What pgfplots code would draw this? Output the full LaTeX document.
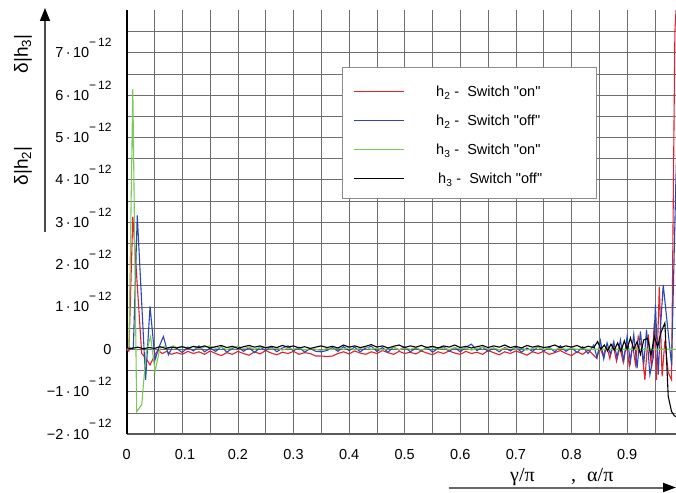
\documentclass[border=0pt]{standalone}
\usepackage{pgfplots}
\pgfplotsset{compat=1.18}
\usepackage{pgfplotstable}
\usepackage{fontspec}
\setmainfont{Liberation Sans}
\newfontfamily\lsans{Liberation Sans}
\newfontfamily\grfont{Liberation Serif}
\usetikzlibrary{arrows.meta}
\definecolor{cred}{RGB}{232,32,40}
\definecolor{cblue}{RGB}{40,72,180}
\definecolor{cgreen}{RGB}{125,200,90}
\definecolor{cgrid}{RGB}{110,110,110}
\newcommand{\sci}[1]{#1\,·\,10\raisebox{11pt}{\fontsize{12}{12}\selectfont −\,12}}
\newcommand{\tf}{\fontsize{14.5}{17}\selectfont}

\pgfplotstableread{
x y
0 0.0
0.004 -0.05
0.011 3.13
0.027 -0.10
0.035 -0.22
0.042 -0.37
0.05 -0.15
0.056 -0.02
0.064 -0.10
0.072 -0.05
0.08 -0.12
0.09 -0.08
0.10 -0.12
0.11 -0.05
0.12 -0.10
0.13 -0.06
0.14 -0.12
0.15 -0.04
0.16 -0.10
0.17 -0.15
0.18 -0.08
0.19 -0.12
0.20 -0.05
0.21 -0.10
0.22 -0.14
0.23 -0.06
0.24 -0.11
0.25 -0.03
0.26 -0.09
0.27 -0.13
0.28 -0.07
0.29 -0.10
0.30 -0.05
0.31 -0.12
0.32 -0.08
0.33 -0.10
0.34 -0.16
0.35 -0.16
0.36 -0.17
0.37 -0.16
0.38 -0.10
0.39 -0.06
0.40 -0.11
0.41 -0.04
0.42 -0.09
0.43 -0.12
0.44 -0.06
0.45 -0.10
0.46 -0.03
0.47 -0.08
0.48 -0.12
0.49 -0.05
0.50 -0.10
0.51 -0.07
0.52 -0.11
0.53 -0.04
0.54 -0.09
0.55 -0.13
0.56 -0.06
0.57 -0.10
0.58 -0.04
0.59 -0.09
0.60 -0.12
0.61 -0.05
0.62 -0.10
0.63 -0.07
0.64 -0.12
0.65 -0.03
0.66 -0.08
0.67 -0.13
0.68 -0.06
0.69 -0.10
0.70 -0.04
0.71 -0.09
0.72 -0.14
0.73 -0.06
0.74 -0.10
0.75 -0.05
0.76 -0.12
0.77 -0.08
0.78 -0.03
0.79 -0.10
0.80 -0.15
0.81 -0.06
0.82 -0.12
0.83 -0.02
0.84 -0.14
0.845 -0.21
0.851 0.03
0.857 -0.15
0.863 0.08
0.869 -0.22
0.875 0.10
0.881 -0.28
0.887 0.05
0.893 -0.30
0.899 0.15
0.904 -0.40
0.910 0.10
0.915 -0.35
0.920 0.30
0.926 0.05
0.932 -0.72
0.938 0.35
0.944 -0.45
0.949 0.62
0.953 -0.72
0.958 1.48
0.963 -0.64
0.968 0.20
0.974 -0.55
0.980 -0.72
0.986 7.50
0.992 9.00
}\redtab

\pgfplotstableread{
x y
0 0.02
0.005 0.0
0.012 0.04
0.019 3.16
0.034 -0.72
0.042 1.01
0.051 -0.25
0.058 0.05
0.066 0.30
0.075 -0.13
0.083 0.07
0.09 0.02
0.10 -0.08
0.11 0.05
0.12 -0.04
0.13 0.08
0.14 -0.06
0.15 0.03
0.16 -0.05
0.17 0.06
0.18 -0.07
0.19 0.02
0.20 0.07
0.21 -0.05
0.22 0.04
0.23 -0.08
0.24 0.05
0.25 -0.03
0.26 0.06
0.27 -0.06
0.28 0.03
0.29 0.08
0.30 -0.04
0.31 0.05
0.32 -0.07
0.33 0.02
0.34 -0.05
0.35 -0.06
0.36 -0.03
0.37 0.04
0.38 -0.05
0.39 0.06
0.40 -0.03
0.41 0.05
0.42 -0.06
0.43 0.03
0.44 0.07
0.45 -0.05
0.46 0.04
0.47 -0.07
0.48 0.05
0.49 -0.02
0.50 0.06
0.51 -0.06
0.52 0.03
0.53 -0.04
0.54 0.05
0.55 -0.07
0.56 0.02
0.57 0.06
0.58 -0.05
0.59 0.04
0.60 -0.06
0.61 0.05
0.62 0.12
0.63 -0.03
0.64 0.05
0.65 -0.05
0.66 0.03
0.67 -0.06
0.68 0.04
0.69 -0.04
0.70 0.05
0.71 -0.07
0.72 0.03
0.73 -0.05
0.74 0.06
0.75 -0.04
0.76 0.05
0.77 -0.06
0.78 0.08
0.79 -0.05
0.80 0.04
0.81 -0.08
0.82 0.06
0.83 -0.10
0.84 0.10
0.846 -0.20
0.852 0.20
0.858 -0.23
0.864 0.15
0.870 -0.12
0.876 0.18
0.882 -0.20
0.888 0.22
0.894 -0.28
0.900 0.30
0.906 -0.30
0.912 0.35
0.918 -0.45
0.924 0.42
0.930 -0.35
0.935 0.46
0.941 -0.60
0.947 -0.20
0.951 1.05
0.956 -0.60
0.960 0.50
0.965 1.52
0.980 -0.37
0.988 4.10
0.992 6.00
}\bluetab

\pgfplotstableread{
x y
0 0.0
0.004 0.03
0.011 6.14
0.018 -1.47
0.027 -1.31
0.035 -0.08
0.043 0.30
0.051 -0.52
0.06 0.03
0.068 0.07
0.076 0.02
0.084 0.08
0.09 0.04
0.10 0.07
0.11 0.02
0.12 0.06
0.13 0.01
0.14 0.05
0.15 0.08
0.16 0.02
0.17 0.05
0.18 -0.01
0.19 0.04
0.20 0.07
0.21 0.02
0.22 0.05
0.23 0.00
0.24 0.04
0.25 0.06
0.26 0.01
0.27 0.03
0.28 -0.02
0.29 0.03
0.30 0.00
0.31 0.04
0.32 -0.02
0.33 0.02
0.34 0.00
0.35 -0.03
0.36 0.02
0.37 -0.01
0.38 0.03
0.39 0.00
0.40 0.04
0.41 -0.02
0.42 0.02
0.43 0.05
0.44 0.00
0.45 0.03
0.46 -0.02
0.47 0.02
0.48 0.04
0.49 -0.01
0.50 0.03
0.51 0.00
0.52 0.04
0.53 -0.02
0.54 0.02
0.55 0.05
0.56 0.00
0.57 0.03
0.58 -0.01
0.59 0.04
0.60 0.01
0.61 0.03
0.62 -0.02
0.63 0.02
0.64 0.05
0.65 0.00
0.66 0.03
0.67 -0.01
0.68 0.02
0.69 0.04
0.70 0.00
0.71 0.03
0.72 -0.02
0.73 0.02
0.74 0.04
0.75 0.00
0.76 0.02
0.77 -0.01
0.78 0.03
0.79 0.00
0.80 0.02
0.81 0.00
0.82 0.01
0.83 0.00
0.99 0.00
}\greentab

\pgfplotstableread{
x y
0 0.03
0.01 0.02
0.02 0.05
0.03 0.01
0.04 0.04
0.05 0.02
0.06 0.06
0.07 0.02
0.08 0.05
0.09 0.03
0.10 0.06
0.11 0.02
0.12 0.07
0.13 0.04
0.14 0.08
0.15 0.03
0.16 0.06
0.17 0.09
0.18 0.04
0.19 0.07
0.20 0.02
0.21 0.06
0.22 0.09
0.23 0.05
0.24 0.08
0.25 0.03
0.26 0.07
0.27 0.04
0.28 0.09
0.29 0.05
0.30 0.08
0.31 0.03
0.32 0.06
0.33 0.02
0.34 0.05
0.35 0.08
0.36 0.04
0.37 0.07
0.38 0.03
0.39 0.10
0.40 0.05
0.41 0.08
0.42 0.04
0.43 0.07
0.44 0.11
0.45 0.05
0.46 0.08
0.47 0.03
0.48 0.07
0.49 0.10
0.50 0.04
0.51 0.08
0.52 0.05
0.53 0.09
0.54 0.04
0.55 0.07
0.56 0.03
0.57 0.08
0.58 0.05
0.59 0.10
0.60 0.04
0.61 0.07
0.62 0.03
0.63 0.06
0.64 0.09
0.65 0.04
0.66 0.08
0.67 0.05
0.68 0.10
0.69 0.04
0.70 0.07
0.71 0.03
0.72 0.09
0.73 0.05
0.74 0.08
0.75 0.04
0.76 0.06
0.77 0.10
0.78 0.04
0.79 0.08
0.80 0.05
0.81 0.09
0.82 0.03
0.83 0.07
0.84 0.04
0.847 0.18
0.853 0.00
0.859 0.10
0.865 -0.04
0.871 0.12
0.877 -0.02
0.883 0.15
0.889 -0.05
0.895 0.20
0.900 0.00
0.906 0.27
0.912 0.00
0.918 0.18
0.924 -0.12
0.930 0.22
0.937 0.26
0.943 -0.15
0.949 0.30
0.955 0.05
0.961 0.40
0.968 0.62
0.974 -1.11
0.980 -1.47
0.985 -1.57
0.990 -1.60
}\blacktab

\begin{document}
\begin{tikzpicture}[x=1pt,y=1pt]
\begin{axis}[
  at={(126.7pt,58pt)}, anchor=south west,
  scale only axis, width=549.3pt, height=423.7pt,
  xmin=0, xmax=0.988, ymin=-2, ymax=8,
  axis x line*=bottom, axis y line*=left,
  x axis line style={-, draw=black!65, line width=1.3pt},
  y axis line style={-, draw=black, line width=1.8pt},
  xtick={0,0.1,0.2,0.3,0.4,0.5,0.6,0.7,0.8,0.9},
  minor xtick={0.05,0.15,0.25,0.35,0.45,0.55,0.65,0.75,0.85,0.95},
  ytick={-2,-1,0,1,2,3,4,5,6,7},
  minor ytick={-1.5,-0.5,0.5,1.5,2.5,3.5,4.5,5.5,6.5,7.5},
  grid=both,
  major grid style={cgrid, line width=0.6pt},
  minor grid style={cgrid, line width=0.6pt},
  major tick length=0pt, minor tick length=0pt,
  xticklabels={0\hspace{8.8pt}, \hspace{5.4pt}0.1, 0.2, 0.3, 0.4, 0.5, 0.6, 0.7, 0.8, 0.9},
  yticklabels={\sci{−2}, \sci{−1}, 0\hspace{31.7pt}, \sci{1}, \sci{2}, \sci{3}, \sci{4}, \sci{5}, \sci{6}, \sci{7}},
  xticklabel style={anchor=base, yshift=-25.3pt, inner sep=0pt, font=\tf},
  yticklabel style={anchor=base east, xshift=-15pt, yshift=-5pt, inner sep=0pt, font=\tf},
  legend style={at={(0.3914,0.8669)}, anchor=north west,
    draw=black!45, line width=0.8pt, fill=white,
    inner xsep=11pt, inner ysep=11.8pt,
    font=\lsans\tf, row sep=8pt, column sep=31.7pt,
    cells={anchor=base west},
    nodes={inner sep=0pt, text height=18pt, text depth=3pt}},
  legend cell align=left,
  legend image code/.code={\draw[#1, line width=1.4pt] (0pt,-2.3pt) -- (50pt,-2.3pt);},
]
\addplot[cred, line width=1.1pt] table[x=x,y=y] {\redtab};
\addlegendentry{\makebox[149pt][l]{h\textsubscript{2} -\hspace{8pt}Switch "on"}}
\addplot[cblue, line width=1.1pt] table[x=x,y=y] {\bluetab};
\addlegendentry{\makebox[149pt][l]{h\textsubscript{2} -\hspace{8pt}Switch "off"}}
\addplot[cgreen, line width=1.1pt] table[x=x,y=y] {\greentab};
\addlegendentry{\makebox[149pt][l]{h\textsubscript{3} -\hspace{8pt}Switch "on"}}
\addplot[black, line width=1.1pt] table[x=x,y=y] {\blacktab};
\addlegendentry{\makebox[149pt][l]{\hspace{2pt}h\textsubscript{3} -\hspace{8pt}Switch "off"}}
\end{axis}
\draw[line width=1.5pt, black!70, -{Triangle[length=13pt,width=10pt,black]}] (45,260) -- (45,484);
\draw[line width=2pt, black!60, -{Triangle[length=13pt,width=9pt,black]}] (448.5,4.5) -- (676,4.5);
\node[rotate=90, font=\fontsize{19}{19}\selectfont] at (23,438) {δ|h\textsubscript{3}|};
\node[rotate=90, font=\fontsize{19}{19}\selectfont] at (23,326) {δ|h\textsubscript{2}|};
\node[anchor=base west, inner sep=0pt, font=\grfont\fontsize{20}{22}\selectfont] at (510,11) {γ/π};
\node[anchor=base west, inner sep=0pt, font=\grfont\fontsize{20}{22}\selectfont] at (571,11) {,};
\node[anchor=base west, inner sep=0pt, font=\grfont\fontsize{20}{22}\selectfont] at (587,11) {α/π};
\pgfresetboundingbox
\path[use as bounding box] (0,0) rectangle (676,492);
\end{tikzpicture}
\end{document}
